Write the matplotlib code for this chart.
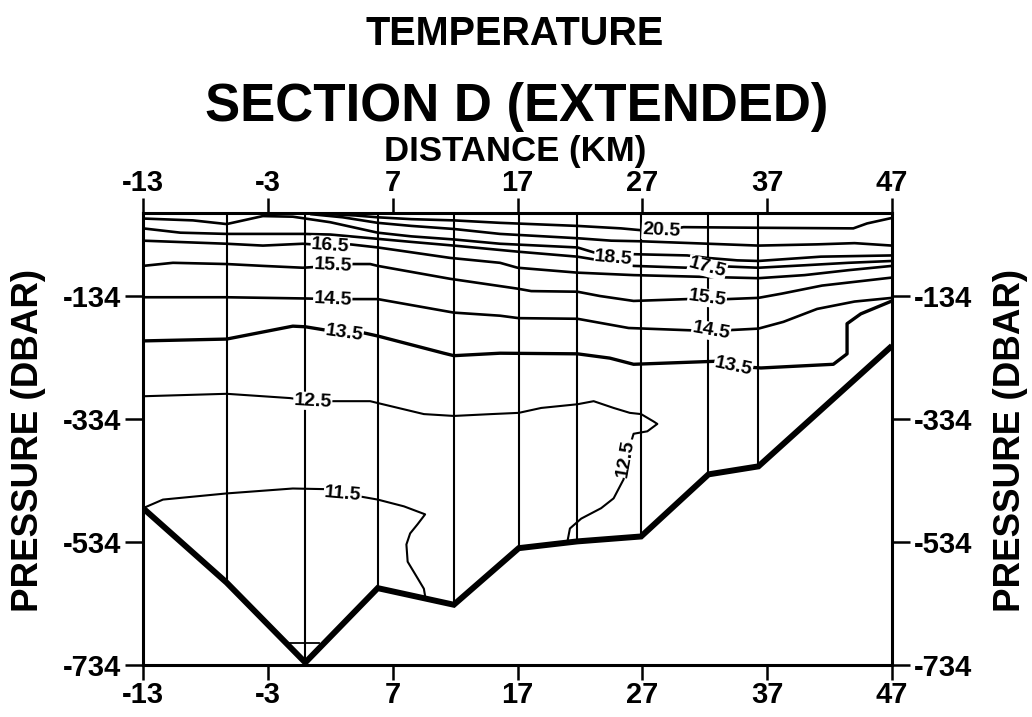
import matplotlib
matplotlib.use('Agg')
import matplotlib.pyplot as plt
import numpy as np
from matplotlib import font_manager

names = {f.name for f in font_manager.fontManager.ttflist}
FAM = 'Liberation Sans' if 'Liberation Sans' in names else 'DejaVu Sans'
plt.rcParams['font.family'] = [FAM, 'DejaVu Sans']
plt.rcParams['font.weight'] = 'bold'

# ---------------- data ----------------
x_ticks = [-13, -3, 7, 17, 27, 37, 47]
p_ticks = [-134, -334, -534, -734]

station_x = [-6.3, 0.0, 5.8, 11.9, 17.1, 21.8, 26.9, 32.3, 36.3]
bottom_x = [-13, -6.3, 0.0, 5.8, 11.9, 17.1, 21.8, 26.9, 32.3, 36.3, 47]
bottom_p = [-479, -600, -730, -609, -636, -544, -533, -525, -424, -411, -215]

c205_x = [2.0, 4.0, 5.8, 8.5, 11.9, 15.6, 21.8, 25.3, 26.9, 28.5, 30.3, 36.2, 43.9, 45.0, 47.0]
c205_p = [-1, -3, -6, -9, -11, -15, -20, -24, -27, -28, -22, -23, -24, -16, -7]

c195_x = [0.5, 3.0, 5.8, 8.5, 11.9, 15.6, 21.8, 24.5, 26.9, 32.3, 36.3, 41.0, 44.0, 47.0]
c195_p = [-1, -6, -15, -20, -25, -33, -40, -44, -45, -49, -52, -50, -48, -52]

c185_x = [-13, -9, -6.3, -3.4, -1.0, 2.0, 5.8, 8.5, 11.9, 15.6, 21.8, 23.1, 24.7, 26.3,
          30.6, 32.2, 34.6, 36.3, 41.3, 47]
c185_p = [-8, -11, -17, -4, -5, -14, -31, -37, -42, -49, -55, -63, -70, -66,
          -68, -72, -76, -77, -70, -68]

c175_x = [-13, -10, -6.3, -0.2, 2.0, 5.8, 8.5, 11.9, 17.1, 21.8, 26.3, 30.6, 32.2, 33.8,
          36.3, 40.0, 43.5, 47.0]
c175_p = [-24, -31, -33, -33, -34, -41, -46, -52, -62, -70, -85, -88, -88, -86,
          -88, -84, -80, -77]

c165_x = [-13, -6.3, -3.4, -0.2, 2.0, 3.6, 5.8, 8.2, 11.6, 15.6, 17.0, 21.8, 26.3, 32.2,
          36.3, 40.0, 43.5, 47.0]
c165_p = [-44, -49, -52, -49, -52, -50, -55, -62, -72, -80, -88, -96, -100, -103,
          -105, -100, -92, -85]

c155_x = [-13, -10.6, -6.3, -3.4, -0.2, 2.2, 3.8, 5.2, 5.8, 11.6, 17.0, 18.1, 21.8, 23.6,
          26.3, 30.6, 32.2, 33.8, 36.3, 38.2, 41.4, 47]
c155_p = [-85, -80, -82, -85, -88, -85, -82, -82, -85, -106, -122, -126, -127, -134,
          -142, -139, -137, -139, -137, -130, -117, -104]

c145_x = [-13, -6.3, 0, 2.2, 5.8, 11.9, 15.6, 17.1, 21.8, 25.9, 32.5, 36.3, 38.3, 41.0,
          44.0, 47]
c145_p = [-136, -136, -138, -139, -139, -161, -166, -170, -171, -186, -191, -187, -176, -155,
          -143, -137]

c135_x = [-13, -6.3, -1.0, 0, 3.0, 4.7, 5.8, 11.1, 11.9, 15.6, 21.8, 24.4, 26.3, 33.0,
          34.3, 36.5, 42.3, 43.4, 43.4, 44.5, 47]
c135_p = [-207, -204, -183, -184, -194, -194, -199, -227, -231, -227, -228, -235, -245, -240,
          -248, -251, -245, -228, -179, -163, -142]

c125_x = [-13, -6.3, -1.2, 0.4, 2.0, 5.2, 5.8, 9.5, 11.9, 14.9, 17.1, 18.9, 21.8, 23.1,
          24.7, 26.0, 26.9, 27.9, 28.2, 27.4, 26.3, 25.7, 25.5, 24.7, 23.7, 22.1, 21.2, 21.0]
c125_p = [-297, -293, -300, -305, -305, -305, -308, -326, -329, -326, -324, -316, -310, -305,
          -316, -324, -326, -338, -342, -354, -358, -398, -432, -463, -479, -496, -512, -533]

c115_x = [-13, -11.4, -6.3, -1.0, 1.5, 3.0, 4.4, 5.8, 7.9, 9.6, 9.0, 8.4, 8.1, 8.2,
          9.0, 9.5, 9.6]
c115_p = [-479, -465, -455, -447, -448, -456, -460, -465, -476, -489, -505, -520, -538, -566,
          -593, -610, -622]

c105_x = [-1.2, 1.1]
c105_p = [-699, -699]

label_text = ['20.5', '18.5', '17.5', '16.5', '15.5', '15.5', '14.5', '14.5',
              '13.5', '13.5', '12.5', '12.5', '11.5']
label_x = [28.5, 24.7, 32.2, 2.0, 2.2, 32.2, 2.2, 32.5, 3.1, 34.3, 0.6, 25.7, 3.0]
label_p = [-28, -72, -88, -52, -85, -137, -139, -191, -194, -248, -305, -398, -456]
label_rot = [-3, -5, -15, -4, -3, -8, -3, -10, -8, -12, -3, 80, -5]

# ---------------- figure ----------------
fig = plt.figure(figsize=(10.32, 7.17), dpi=100)
ax = fig.add_axes([143 / 1032, 1 - 665 / 717, (892 - 143) / 1032, (665 - 213) / 717])
ax.set_xlim(-13, 47)
ax.set_ylim(-734, 1)

# station lines
st_bottom = np.interp(station_x, bottom_x, bottom_p)
for sx, sb in zip(station_x, st_bottom):
    ax.plot([sx, sx], [0, sb], color='black', lw=1.5, zorder=2, solid_capstyle='butt')

contours = [
    (c205_x, c205_p, 1.9), (c195_x, c195_p, 1.9), (c185_x, c185_p, 1.9),
    (c175_x, c175_p, 1.9), (c165_x, c165_p, 1.9), (c155_x, c155_p, 1.9),
    (c145_x, c145_p, 1.9), (c135_x, c135_p, 2.4), (c125_x, c125_p, 1.5),
    (c115_x, c115_p, 1.5), (c105_x, c105_p, 1.3),
]
for cx, cp, lw in contours:
    ax.plot(cx, cp, color='black', lw=lw, zorder=3, solid_joinstyle='round')

# bottom profile
ax.plot(bottom_x, bottom_p, color='black', lw=4.3, zorder=4, solid_joinstyle='miter',
        solid_capstyle='butt')

for t, lx, lp, r in zip(label_text, label_x, label_p, label_rot):
    ax.text(lx, lp, t, ha='center', va='center', rotation=r, fontsize=14,
            fontweight='bold', zorder=6,
            bbox=dict(boxstyle='square,pad=0.03', fc='white', ec='none'))

# axes styling
for s in ax.spines.values():
    s.set_linewidth(2.2)
ax.set_xticks(x_ticks)
ax.set_xticklabels([str(v) for v in x_ticks])
ax.set_yticks(p_ticks)
ax.set_yticklabels([str(v) for v in p_ticks])
ax.tick_params(axis='x', direction='out', length=10.8, width=1.8, labelsize=21,
               top=True, labeltop=True, bottom=True, labelbottom=True, pad=0.5)
ax.tick_params(axis='y', direction='out', length=13, width=1.8, labelsize=21,
               left=True, right=True, labelleft=True, labelright=True, pad=3)
for lab in ax.get_xticklabels() + ax.get_yticklabels():
    lab.set_fontweight('bold')

fig.text(515 / 1032, 1 - 45 / 717, 'TEMPERATURE', ha='center', va='baseline',
         fontsize=28.5, fontweight='bold')
fig.text(517 / 1032, 1 - 121 / 717, 'SECTION D (EXTENDED)', ha='center', va='baseline',
         fontsize=38, fontweight='bold')
fig.text(515 / 1032, 1 - 161 / 717, 'DISTANCE (KM)', ha='center', va='baseline',
         fontsize=25, fontweight='bold')
fig.text(28.5 / 1032, 1 - 440 / 717, 'PRESSURE (DBAR)', ha='center', va='center',
         rotation=90, fontsize=26.5, fontweight='bold')
fig.text(1010 / 1032, 1 - 440 / 717, 'PRESSURE (DBAR)', ha='center', va='center',
         rotation=90, fontsize=26.5, fontweight='bold')

fig.savefig('out.png', dpi=100, facecolor='white')
